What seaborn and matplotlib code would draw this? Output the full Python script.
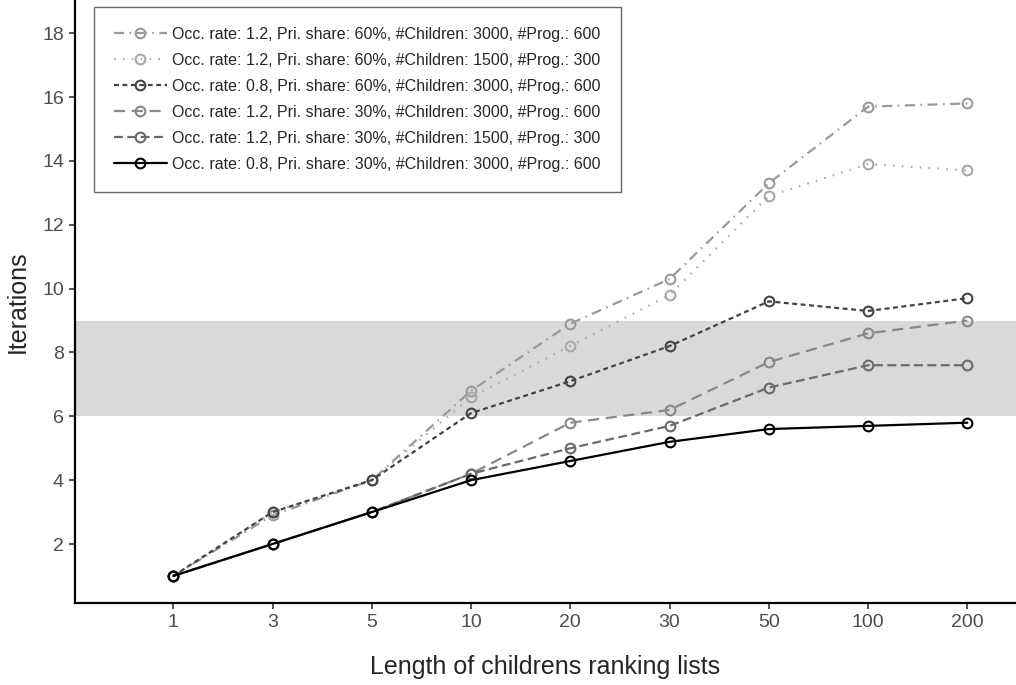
import matplotlib
matplotlib.use("Agg")
import matplotlib.pyplot as plt
import seaborn as sns
import numpy as np
import pandas as pd

# ---- data ----
x_labels = ["1", "3", "5", "10", "20", "30", "50", "100", "200"]
series_labels = [
    "Occ. rate: 1.2, Pri. share: 60%, #Children: 3000, #Prog.: 600",
    "Occ. rate: 1.2, Pri. share: 60%, #Children: 1500, #Prog.: 300",
    "Occ. rate: 0.8, Pri. share: 60%, #Children: 3000, #Prog.: 600",
    "Occ. rate: 1.2, Pri. share: 30%, #Children: 3000, #Prog.: 600",
    "Occ. rate: 1.2, Pri. share: 30%, #Children: 1500, #Prog.: 300",
    "Occ. rate: 0.8, Pri. share: 30%, #Children: 3000, #Prog.: 600",
]
s1 = [1.0, 2.9, 4.0, 6.8, 8.9, 10.3, 13.3, 15.7, 15.8]
s2 = [1.0, 3.0, 4.0, 6.6, 8.2, 9.8, 12.9, 13.9, 13.7]
s3 = [1.0, 3.0, 4.0, 6.1, 7.1, 8.2, 9.6, 9.3, 9.7]
s4 = [1.0, 2.0, 3.0, 4.2, 5.8, 6.2, 7.7, 8.6, 9.0]
s5 = [1.0, 2.0, 3.0, 4.2, 5.0, 5.7, 6.9, 7.6, 7.6]
s6 = [1.0, 2.0, 3.0, 4.0, 4.6, 5.2, 5.6, 5.7, 5.8]
band_low, band_high = 6, 9
y_ticks = [2, 4, 6, 8, 10, 12, 14, 16, 18]

# ---- styles ----
colors = ["#9a9a9a", "#a8a8a8", "#444444", "#888888", "#6a6a6a", "#000000"]
styles = [
    (0, (4.5, 2.5, 0.7, 2.5)),
    (0, (0.7, 3.3)),
    (0, (2.2, 1.6)),
    (0, (5, 3)),
    (0, (4, 2)),
    "-",
]

sns.set_style("ticks")
plt.rcParams["font.family"] = ["Liberation Sans", "DejaVu Sans"]

fig = plt.figure(figsize=(10.16, 6.85), dpi=100)
ax = fig.add_axes([75 / 1016, (685 - 603) / 685, (1016 - 75) / 1016, 603 / 685])

xpos = np.arange(len(x_labels))
ax.axhspan(band_low, band_high, color="#d9d9d9", lw=0, zorder=0)

all_series = [s1, s2, s3, s4, s5, s6]
for vals, lab, c, ls in zip(all_series, series_labels, colors, styles):
    df = pd.DataFrame({"x": xpos, "y": vals})
    sns.lineplot(data=df, x="x", y="y", ax=ax, color=c, linestyle=ls, lw=1.6,
                 marker="o", markersize=7, markerfacecolor="none",
                 markeredgecolor=c, markeredgewidth=1.5, label=lab, zorder=3)

ax.set_xlim(-0.99, 8.49)
ax.set_ylim(0.152, 19.04)
ax.set_xticks(xpos)
ax.set_xticklabels(x_labels)
ax.set_yticks(y_ticks)
ax.tick_params(axis="both", labelsize=14, colors="#333333", length=4, width=1.2,
               labelcolor="#4d4d4d", pad=4)
for sp in ["top", "right"]:
    ax.spines[sp].set_visible(False)
for sp in ["left", "bottom"]:
    ax.spines[sp].set_linewidth(1.6)
    ax.spines[sp].set_color("black")

ax.set_xlabel("Length of childrens ranking lists", fontsize=18, labelpad=17)
ax.set_ylabel("Iterations", fontsize=18, labelpad=9)

leg = ax.legend(loc="lower left", bbox_to_anchor=((94 - 75) / 941, (603 - 192) / 603),
                frameon=True, fancybox=False, fontsize=11.5, labelspacing=0.69,
                handlelength=3.3, handletextpad=0.35, borderpad=1.25, borderaxespad=0)
leg.get_frame().set_edgecolor("#444444")
leg.get_frame().set_linewidth(1.0)
leg.set_zorder(5)

fig.savefig("out.png", dpi=100)
